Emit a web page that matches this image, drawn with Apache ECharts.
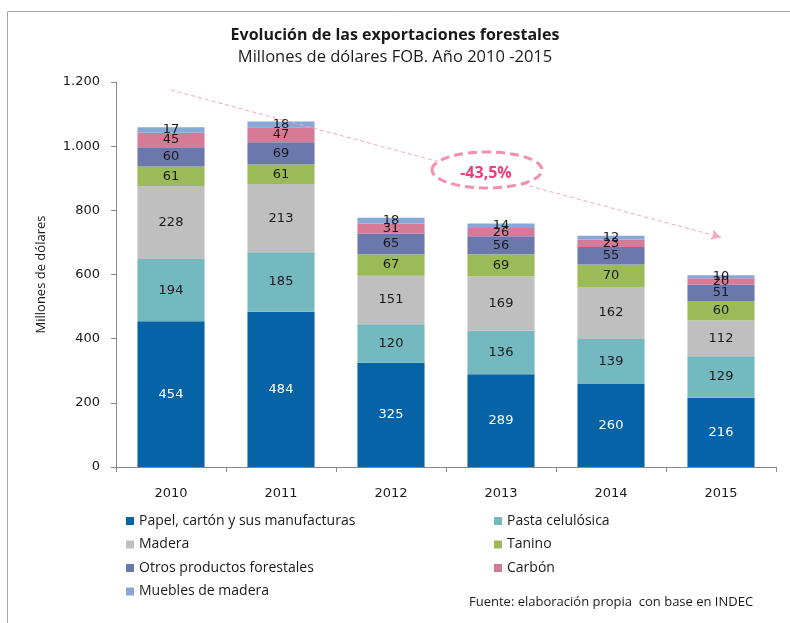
<!DOCTYPE html>
<html>
<head>
<meta charset="utf-8">
<script src="https://cdn.jsdelivr.net/npm/echarts@6/dist/echarts.min.js"></script>
<style>
  html, body { margin: 0; padding: 0; background: #fff; }
  #chart { width: 790px; height: 623px; }
</style>
</head>
<body>
<div id="chart"></div>
<script>
const years = ['2010', '2011', '2012', '2013', '2014', '2015'];
const papel = [454, 484, 325, 289, 260, 216];
const pasta = [194, 185, 120, 136, 139, 129];
const madera = [228, 213, 151, 169, 162, 112];
const tanino = [61, 61, 67, 69, 70, 60];
const otros = [60, 69, 65, 56, 55, 51];
const carbon = [45, 47, 31, 26, 23, 20];
const muebles = [17, 18, 18, 14, 12, 10];
const yTicks = [0, 200, 400, 600, 800, 1000, 1200];
const trendStart = ['2010', 1175];
const trendEnd = ['2015', 716];
const trendLabel = '-43,5%';

const seriesDefs = [
  { name: 'Papel, cartón y sus manufacturas', data: papel, color: '#0563a6', labelColor: '#ffffff' },
  { name: 'Pasta celulósica', data: pasta, color: '#74b8c0', labelColor: '#1a1a1a' },
  { name: 'Madera', data: madera, color: '#bfbfbf', labelColor: '#1a1a1a' },
  { name: 'Tanino', data: tanino, color: '#9bbb59', labelColor: '#1a1a1a' },
  { name: 'Otros productos forestales', data: otros, color: '#6b78ae', labelColor: '#1a1a1a' },
  { name: 'Carbón', data: carbon, color: '#d77a97', labelColor: '#1a1a1a' },
  { name: 'Muebles de madera', data: muebles, color: '#87a7d6', labelColor: '#1a1a1a' }
];

const chart = echarts.init(document.getElementById('chart'));

const series = seriesDefs.map((s, i) => {
  const item = {
    name: s.name,
    type: 'bar',
    stack: 'total',
    data: s.data,
    barWidth: '61%',
    itemStyle: { color: s.color },
    label: {
      show: true,
      position: 'inside',
      color: s.labelColor,
      fontFamily: 'DejaVu Sans',
      fontSize: 13
    },
    emphasis: { disabled: true }
  };
  // trend arrow hangs off the top series
  if (i === seriesDefs.length - 1) {
    item.markLine = {
      silent: true,
      symbol: ['none', 'arrow'],
      symbolSize: [8, 10],
      label: { show: false },
      lineStyle: { color: '#f4a6c2', type: [4, 3], width: 1 },
      data: [[{ coord: trendStart }, { coord: trendEnd }]]
    };
  }
  return item;
});

const legendText = { fontFamily: 'Open Sans', fontSize: 14, color: '#1a1a1a', lineHeight: 16 };

const option = {
  animation: false,
  backgroundColor: '#fff',
  title: {
    text: 'Evolución de las exportaciones forestales',
    subtext: 'Millones de dólares FOB. Año 2010 -2015',
    left: 'center',
    top: 22,
    itemGap: 6,
    textStyle: { fontFamily: 'Open Sans', fontSize: 16, fontWeight: 'bold', color: '#1a1a1a' },
    subtextStyle: { fontFamily: 'Open Sans', fontSize: 16.5, color: '#1a1a1a' }
  },
  legend: [
    {
      data: [seriesDefs[0].name, seriesDefs[2].name, seriesDefs[4].name, seriesDefs[6].name],
      orient: 'vertical',
      left: 121,
      top: 508,
      icon: 'rect',
      itemWidth: 8,
      itemHeight: 8,
      itemGap: 7.5,
      selectedMode: false,
      textStyle: legendText
    },
    {
      data: [seriesDefs[1].name, seriesDefs[3].name, seriesDefs[5].name],
      orient: 'vertical',
      left: 489,
      top: 508,
      icon: 'rect',
      itemWidth: 8,
      itemHeight: 8,
      itemGap: 7.5,
      selectedMode: false,
      textStyle: legendText
    }
  ],
  grid: { left: 116, right: 14, top: 82, bottom: 156 },
  xAxis: {
    type: 'category',
    data: years,
    axisLine: { lineStyle: { color: '#888' } },
    axisTick: { show: true, length: 5, lineStyle: { color: '#888' } },
    axisLabel: { fontFamily: 'DejaVu Sans', fontSize: 13, color: '#1a1a1a', margin: 20 }
  },
  yAxis: {
    type: 'value',
    min: yTicks[0],
    max: yTicks[yTicks.length - 1],
    interval: 200,
    name: 'Millones de dólares',
    nameLocation: 'middle',
    nameGap: 68,
    nameTextStyle: { fontFamily: 'Open Sans', fontSize: 13, color: '#1a1a1a' },
    splitLine: { show: false },
    axisLine: { show: true, lineStyle: { color: '#888' } },
    axisTick: { show: true, length: 5, lineStyle: { color: '#888' } },
    axisLabel: {
      fontFamily: 'DejaVu Sans',
      fontSize: 13,
      color: '#1a1a1a',
      margin: 16,
      formatter: v => v.toLocaleString('de-DE')
    }
  },
  graphic: [
    {
      type: 'rect',
      silent: true,
      shape: { x: 7.5, y: 11.5, width: 900, height: 800 },
      style: { fill: 'none', stroke: '#a6a6a6', lineWidth: 1 }
    },
    {
      type: 'ellipse',
      z: 100,
      silent: true,
      shape: { cx: 487, cy: 170, rx: 55, ry: 18 },
      style: { fill: '#fff', stroke: '#f48fb4', lineWidth: 3, lineDash: [9, 5] }
    },
    {
      type: 'text',
      z: 101,
      silent: true,
      x: 486,
      y: 173,
      style: {
        text: trendLabel,
        fill: '#ec3f78',
        font: 'bold 16px "Open Sans"',
        align: 'center',
        verticalAlign: 'middle'
      }
    },
    {
      type: 'text',
      silent: true,
      left: 469,
      top: 596,
      style: {
        text: 'Fuente: elaboración propia  con base en INDEC',
        fill: '#1a1a1a',
        font: '13px "Open Sans"'
      }
    }
  ],
  series: series
};

chart.setOption(option);
</script>
</body>
</html>
